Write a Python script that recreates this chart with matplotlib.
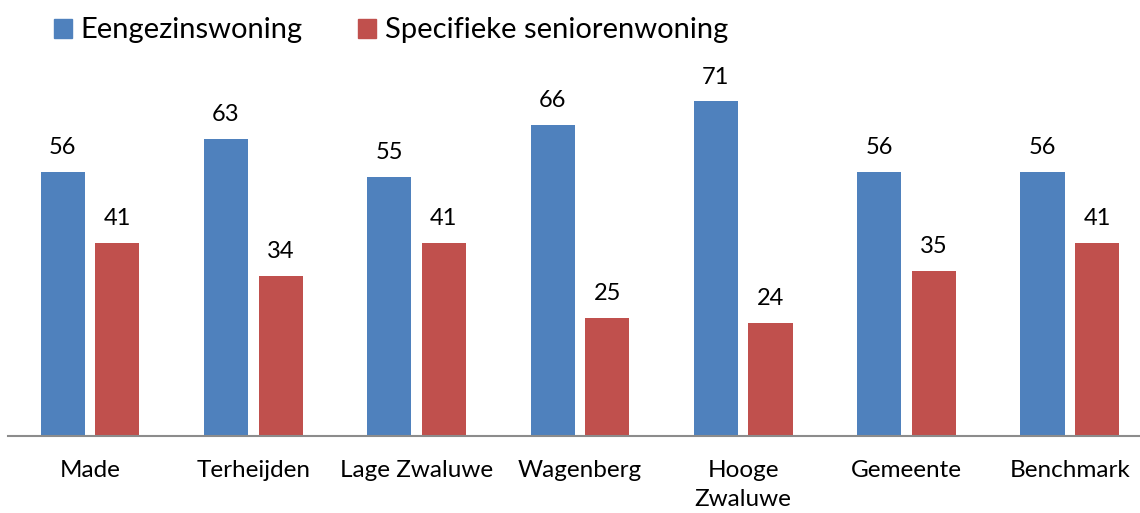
import numpy as np
import matplotlib
matplotlib.use("Agg")
from matplotlib import pyplot as plt
from matplotlib.patches import Patch

categories = ["Made", "Terheijden", "Lage Zwaluwe", "Wagenberg", "Hooge\nZwaluwe", "Gemeente", "Benchmark"]
eengezins = [56, 63, 55, 66, 71, 56, 56]
senioren = [41, 34, 41, 25, 24, 35, 41]
series_names = ["Eengezinswoning", "Specifieke seniorenwoning"]

blue = "#4F81BD"
red = "#C0504D"

plt.rcParams['font.family'] = ['Lato', 'DejaVu Sans']

fig = plt.figure(figsize=(11.4, 5.13), dpi=100)
ax = fig.add_axes([8.35 / 1140, 77 / 513, (1140 - 8.35) / 1140, 377 / 513])

x = np.arange(len(categories))
w = 0.27
off = 0.167
b1 = ax.bar(x - off, eengezins, w, color=blue)
b2 = ax.bar(x + off, senioren, w, color=red)

# waarden boven de staven
for bars, vals in ((b1, eengezins), (b2, senioren)):
    for b, v in zip(bars, vals):
        ax.annotate(str(v), (b.get_x() + b.get_width() / 2, v), xytext=(0, 10),
                    textcoords="offset points", ha="center", va="bottom", fontsize=17)

ax.set_xlim(-0.5, 6.43)
ax.set_ylim(0, 80)
ax.set_xticks(x)
ax.set_xticklabels(categories, fontsize=17.5, linespacing=1.5)
ax.tick_params(axis="x", length=0, pad=17)
ax.set_yticks([])
for s in ("top", "right", "left"):
    ax.spines[s].set_visible(False)
ax.spines["bottom"].set_color("#8C8C8C")
ax.spines["bottom"].set_linewidth(1.5)

handles = [Patch(color=blue), Patch(color=red)]
fig.legend(handles, series_names, loc="upper left", bbox_to_anchor=(36 / 1140, 1.0),
           ncol=2, frameon=False, fontsize=21, handlelength=0.62, handleheight=0.62,
           handletextpad=0.3, columnspacing=1.9, borderaxespad=0.2)

fig.savefig("out.png", dpi=100)
